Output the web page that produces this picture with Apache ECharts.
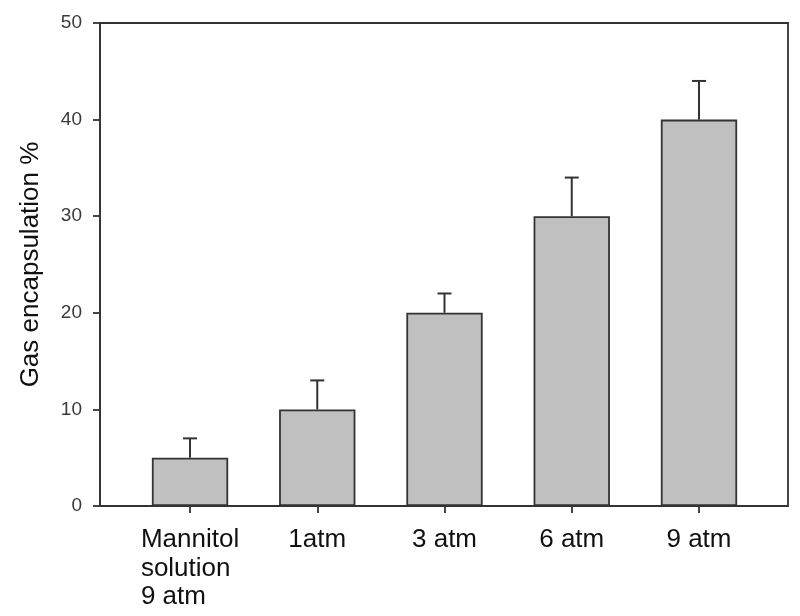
<!DOCTYPE html>
<html>
<head>
<meta charset="utf-8">
<script src="https://cdn.jsdelivr.net/npm/echarts@6/dist/echarts.min.js"></script>
<style>
html, body { margin: 0; padding: 0; background: #fff; }
#chart { width: 800px; height: 616px; }
</style>
</head>
<body>
<div id="chart"></div>
<script>
var categories = ['Mannitol\nsolution\n9 atm', '1atm', '3 atm', '6 atm', '9 atm'];
var values = [5, 10, 20, 30, 40];
var errors = [2, 3, 2, 4, 4];
var yTicks = [0, 10, 20, 30, 40, 50];

var chart = echarts.init(document.getElementById('chart'));
var FONT = '"Liberation Sans", Arial, sans-serif';

var errData = values.map(function (v, i) { return [i, v, v + errors[i]]; });

chart.setOption({
  animation: false,
  backgroundColor: '#ffffff',
  grid: [
    { left: 100, right: 12, top: 23, bottom: 110, show: true, borderColor: '#333', borderWidth: 1.8, backgroundColor: 'transparent' },
    { left: 126.4, right: 37.4, top: 23, bottom: 110 }
  ],
  xAxis: [
    { gridIndex: 0, type: 'value', min: 0, max: 1, show: false },
    {
      gridIndex: 1, type: 'category', data: categories,
      axisLine: { show: false },
      axisTick: { show: true, alignWithLabel: true, interval: 0, length: 7, lineStyle: { color: '#333', width: 1.8 } },
      axisLabel: {
        interval: 0, hideOverlap: false,
        margin: 20, fontFamily: FONT, fontSize: 26, color: '#111', lineHeight: 28.5,
        formatter: function (val) {
          return val.split('\n').map(function (s) { return '{a|' + s + '}'; }).join('\n');
        },
        rich: { a: { align: 'left', fontFamily: FONT, fontSize: 26, color: '#111', lineHeight: 28.5 } }
      }
    }
  ],
  yAxis: [
    {
      gridIndex: 0, type: 'value', min: yTicks[0], max: yTicks[yTicks.length - 1], interval: 10,
      name: 'Gas encapsulation %', nameLocation: 'middle', nameGap: 56,
      nameTextStyle: { fontFamily: FONT, fontSize: 26, color: '#111' },
      axisLine: { show: true, lineStyle: { color: '#333', width: 1.8 } },
      axisTick: { show: true, length: 7, lineStyle: { color: '#333', width: 1.8 } },
      axisLabel: { margin: 18, fontFamily: FONT, fontSize: 19, color: '#3a3a3a' },
      splitLine: { show: false }
    },
    {
      gridIndex: 1, type: 'value', min: yTicks[0], max: yTicks[yTicks.length - 1], show: false
    }
  ],
  series: [
    {
      type: 'bar', xAxisIndex: 1, yAxisIndex: 1, data: values, barWidth: '60%',
      itemStyle: { color: '#c0c0c0', borderColor: '#333', borderWidth: 1.8 },
      z: 2
    },
    {
      type: 'custom', xAxisIndex: 1, yAxisIndex: 1, data: errData, z: 3,
      renderItem: function (params, api) {
        var x = api.value(0);
        var p0 = api.coord([x, api.value(1)]);
        var p1 = api.coord([x, api.value(2)]);
        var half = 7;
        var st = { stroke: '#333', lineWidth: 2 };
        return {
          type: 'group',
          children: [
            { type: 'line', shape: { x1: p0[0], y1: p0[1], x2: p1[0], y2: p1[1] }, style: st },
            { type: 'line', shape: { x1: p1[0] - half, y1: p1[1], x2: p1[0] + half, y2: p1[1] }, style: st }
          ]
        };
      }
    }
  ]
});
</script>
</body>
</html>
